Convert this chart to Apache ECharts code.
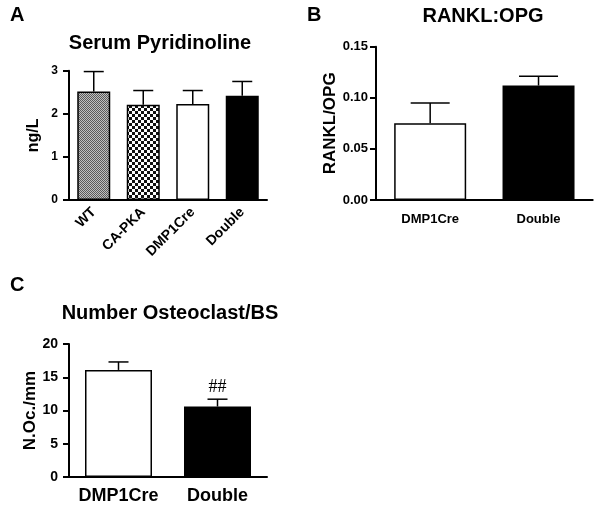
<!DOCTYPE html>
<html lang="en">
  <head>
    <meta charset="UTF-8" />
    <title>Serum Pyridinoline / RANKL:OPG / Osteoclast</title>
    <style>
      html, body { margin: 0; padding: 0; background: #fff; }
      #chart { width: 600px; height: 505px; }
    </style>
  </head>
  <body>
    <div id="chart"></div>
    <script src="https://cdn.jsdelivr.net/npm/echarts@6/dist/echarts.min.js"></script>
    <script>
      // panel A
      const pyrCategories = ["WT", "CA-PKA", "DMP1Cre", "Double"];
      const pyrMeans = [2.52, 2.21, 2.23, 2.42];
      const pyrErrTop = [2.98, 2.54, 2.54, 2.75];
      const pyrTicks = [0, 1, 2, 3];

      // panel B
      const rankCategories = ["DMP1Cre", "Double"];
      const rankMeans = [0.075, 0.112];
      const rankErrTop = [0.095, 0.121];
      const rankTicks = [0, 0.05, 0.1, 0.15];

      // panel C
      const ocCategories = ["DMP1Cre", "Double"];
      const ocMeans = [16.1, 10.6];
      const ocErrTop = [17.3, 11.7];
      const ocMarks = ["", "##"];
      const ocTicks = [0, 5, 10, 15, 20];

      const FONT = "Liberation Sans, Arial, sans-serif";

      function pattern(size, draw) {
        const c = document.createElement("canvas");
        c.width = size;
        c.height = size;
        draw(c.getContext("2d"));
        return { image: c, repeat: "repeat" };
      }
      const fineGray = pattern(2, (g) => {
        g.fillStyle = "#c0c0c0";
        g.fillRect(0, 0, 2, 2);
        g.fillStyle = "#5a5a5a";
        g.fillRect(0, 0, 1, 1);
        g.fillRect(1, 1, 1, 1);
      });
      const checker = pattern(6, (g) => {
        g.fillStyle = "#fff";
        g.fillRect(0, 0, 6, 6);
        g.fillStyle = "#111";
        g.fillRect(0, 0, 3, 3);
        g.fillRect(3, 3, 3, 3);
      });
      const pyrFills = [fineGray, checker, "#fff", "#000"];
      const twoFills = ["#fff", "#000"];

      function xAxis(idx, cats, fs, rotate, margin) {
        return {
          gridIndex: idx,
          type: "category",
          data: cats,
          axisLine: { lineStyle: { color: "#000", width: 2 } },
          axisTick: { alignWithLabel: true, length: 6, lineStyle: { color: "#000", width: 2 } },
          axisLabel: {
            color: "#000", fontFamily: FONT, fontWeight: "bold",
            fontSize: fs, rotate: rotate, margin: margin, interval: 0
          }
        };
      }
      function yAxis(idx, ticks, name, fs, nfs, gap, margin, fmt) {
        return {
          gridIndex: idx,
          type: "value",
          min: ticks[0],
          max: ticks[ticks.length - 1],
          interval: ticks[1] - ticks[0],
          name: name,
          nameLocation: "middle",
          nameGap: gap,
          nameTextStyle: { color: "#000", fontFamily: FONT, fontWeight: "bold", fontSize: nfs },
          splitLine: { show: false },
          axisLine: { show: true, lineStyle: { color: "#000", width: 2 } },
          axisTick: { show: true, length: 6, lineStyle: { color: "#000", width: 2 } },
          axisLabel: { color: "#000", fontFamily: FONT, fontWeight: "bold", fontSize: fs, margin: margin, formatter: fmt }
        };
      }
      function bars(idx, means, fills, width) {
        return {
          type: "bar",
          xAxisIndex: idx,
          yAxisIndex: idx,
          barWidth: width,
          z: 2,
          data: means.map((v, i) => ({
            value: v,
            itemStyle: { color: fills[i], borderColor: "#000", borderWidth: 1.5 }
          }))
        };
      }
      function errs(idx, means, tops, cap, marks) {
        return {
          type: "custom",
          xAxisIndex: idx,
          yAxisIndex: idx,
          z: 3,
          data: means.map((v, i) => [i, v, tops[i]]),
          renderItem: (params, api) => {
            const i = api.value(0);
            const lo = api.coord([i, api.value(1)]);
            const hi = api.coord([i, api.value(2)]);
            const style = { stroke: "#000", lineWidth: 1.5 };
            const kids = [
              { type: "line", shape: { x1: lo[0], y1: lo[1], x2: hi[0], y2: hi[1] }, style },
              { type: "line", shape: { x1: hi[0] - cap / 2, y1: hi[1], x2: hi[0] + cap / 2, y2: hi[1] }, style }
            ];
            if (marks && marks[i]) {
              kids.push({
                type: "text",
                style: {
                  text: marks[i], x: hi[0], y: hi[1] - 3,
                  align: "center", verticalAlign: "bottom",
                  fill: "#000", fontSize: 18, fontFamily: "Liberation Serif"
                }
              });
            }
            return { type: "group", children: kids };
          }
        };
      }
      function heading(text, x, y, fs, align) {
        return {
          text: text,
          left: x,
          top: y,
          textAlign: align || "center",
          padding: 0,
          textStyle: { color: "#000", fontFamily: FONT, fontWeight: "bold", fontSize: fs }
        };
      }

      const chart = echarts.init(document.getElementById("chart"));
      chart.setOption({
        animation: false,
        title: [
          heading("A", 10, 5, 20, "left"),
          heading("Serum Pyridinoline", 160, 33, 20),
          heading("B", 307, 5, 20, "left"),
          heading("RANKL:OPG", 483, 6, 20),
          heading("C", 10, 275, 20, "left"),
          heading("Number Osteoclast/BS", 170, 303, 20)
        ],
        grid: [
          { left: 69, top: 70.7, width: 198, height: 129.3 },
          { left: 376, top: 46.7, width: 216.7, height: 153.3 },
          { left: 69, top: 344, width: 198, height: 135.3 }
        ],
        xAxis: [
          xAxis(0, pyrCategories, 14, 45, 10),
          xAxis(1, rankCategories, 13, 0, 13),
          xAxis(2, ocCategories, 18, 0, 10)
        ],
        yAxis: [
          yAxis(0, pyrTicks, "ng/L", 12, 16, 27, 11),
          yAxis(1, rankTicks, "RANKL/OPG", 13, 17, 31, 8, (v) => v.toFixed(2)),
          yAxis(2, ocTicks, "N.Oc./mm", 14, 17, 28, 11)
        ],
        series: [
          bars(0, pyrMeans, pyrFills, 33),
          errs(0, pyrMeans, pyrErrTop, 20),
          bars(1, rankMeans, twoFills, 72),
          errs(1, rankMeans, rankErrTop, 39),
          bars(2, ocMeans, twoFills, 67),
          errs(2, ocMeans, ocErrTop, 20, ocMarks)
        ]
      });
    </script>
  </body>
</html>
